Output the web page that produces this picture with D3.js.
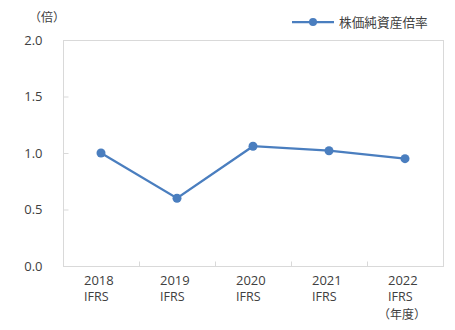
<!DOCTYPE html>
<html>
<head>
<meta charset="utf-8">
<script src="https://cdn.jsdelivr.net/npm/d3@7"></script>
<style>
  body { margin: 0; background: #fff; }
  text { font-family: "Noto Sans CJK JP", "Noto Sans", sans-serif; fill: #404040; }
</style>
</head>
<body>
<div id="chart"></div>
<script>
var years = ["2018", "2019", "2020", "2021", "2022"];
var subLabels = [["IFRS"], ["IFRS"], ["IFRS"], ["IFRS"], ["IFRS", "（年度）"]];
var pbr = [1.00, 0.60, 1.06, 1.02, 0.95];
var yTicks = [0, 0.5, 1.0, 1.5, 2.0];
var seriesName = "株価純資産倍率";
var unitLabel = "（倍）";

var width = 455, height = 330;
var margin = {top: 40, right: 12, bottom: 64, left: 63};
var color = "#4a7ebf";
var latin = "'Open Sans', 'Noto Sans', sans-serif";

var svg = d3.select("#chart").append("svg")
    .attr("width", width)
    .attr("height", height);

var x = d3.scaleBand()
    .domain(years)
    .range([margin.left, width - margin.right]);

var y = d3.scaleLinear()
    .domain([0, 2])
    .range([height - margin.bottom, margin.top]);

// plot frame
svg.append("rect")
    .attr("x", margin.left + 0.5)
    .attr("y", margin.top + 0.5)
    .attr("width", width - margin.right - margin.left)
    .attr("height", height - margin.bottom - margin.top)
    .attr("fill", "none")
    .attr("stroke", "#d9d9d9");

// y axis
var yAxis = svg.append("g")
    .attr("transform", "translate(" + (margin.left + 0.5) + ",0)")
    .call(d3.axisLeft(y).tickValues(yTicks).tickSize(-5).tickPadding(21)
          .tickFormat(d3.format(".1f")));
yAxis.select(".domain").remove();
yAxis.selectAll("line").attr("stroke", "#d9d9d9");
yAxis.selectAll("text").attr("font-size", 13).attr("fill", "#404040")
    .style("font-family", latin);

// x axis ticks at category boundaries
var xAxis = svg.append("g")
    .attr("transform", "translate(0," + (height - margin.bottom + 0.5) + ")");
xAxis.selectAll("line")
    .data(years.slice(1))
    .enter().append("line")
    .attr("x1", function(d) { return Math.round(x(d)) + 0.5; })
    .attr("x2", function(d) { return Math.round(x(d)) + 0.5; })
    .attr("y1", 0).attr("y2", -5)
    .attr("stroke", "#d9d9d9");

// category labels: one text per line
years.forEach(function(d, i) {
    var cx = x(d) + x.bandwidth() / 2;
    var x0 = cx - 17;
    xAxis.append("text")
        .attr("x", x0).attr("y", 18)
        .attr("font-size", 13)
        .style("font-family", latin)
        .text(d);
    subLabels[i].forEach(function(s, j) {
        xAxis.append("text")
            .attr("x", j === 1 ? x0 - 10 : x0)
            .attr("y", j === 1 ? 52 : 34)
            .attr("font-size", j === 1 ? 12 : 12.5)
            .style("font-family", j === 1 ? "'Noto Sans CJK JP', sans-serif" : latin)
            .text(s);
    });
});

// unit label
svg.append("text")
    .attr("x", 29).attr("y", 22)
    .attr("font-size", 12)
    .text(unitLabel);

// line
var line = d3.line()
    .x(function(d, i) { return x(years[i]) + x.bandwidth() / 2; })
    .y(function(d) { return y(d); });

svg.append("path")
    .datum(pbr)
    .attr("d", line)
    .attr("fill", "none")
    .attr("stroke", color)
    .attr("stroke-width", 2.25);

svg.selectAll("circle.pt")
    .data(pbr)
    .enter().append("circle")
    .attr("class", "pt")
    .attr("cx", function(d, i) { return x(years[i]) + x.bandwidth() / 2; })
    .attr("cy", function(d) { return y(d); })
    .attr("r", 4.5)
    .attr("fill", color);

// legend
var lg = svg.append("g").attr("transform", "translate(292,22)");
lg.append("line")
    .attr("x1", 0).attr("x2", 42).attr("y1", 0).attr("y2", 0)
    .attr("stroke", color).attr("stroke-width", 2.25);
lg.append("circle").attr("cx", 21).attr("cy", 0).attr("r", 4).attr("fill", color);
lg.append("text")
    .attr("x", 47).attr("y", 5)
    .attr("font-size", 12.7)
    .text(seriesName);
</script>
</body>
</html>
